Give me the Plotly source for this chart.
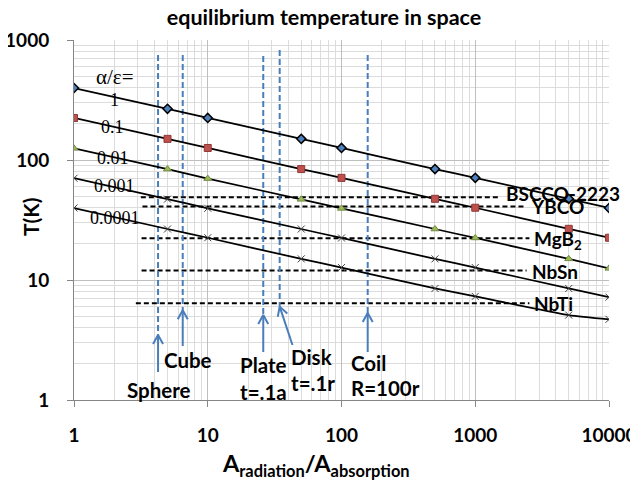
import numpy as np
import plotly.graph_objects as go

# ---------------- data ----------------
area_ratio = [1, 5, 10, 50, 100, 500, 1000, 5000, 10000]
ratio_labels = ["1", "0.1", "0.01", "0.001", "0.0001"]
T_1 = [398, 267, 224, 150, 126, 84, 71, 47.5, 39.8]
T_01 = [224, 150, 126, 84, 71, 47.5, 40, 26.7, 22.5]
T_001 = [125, 84, 70, 47, 39.5, 26.6, 22.4, 15, 12.5]
T_0001 = [70.5, 47.2, 39.6, 26.6, 22.4, 15, 12.7, 8.5, 7.2]
T_00001 = [39.8, 26.6, 22.5, 15, 12.7, 8.5, 7.3, 5.1, 4.7]

materials = ["BSCCO-2223", "YBCO", "MgB<sub>2</sub>", "NbSn", "NbTi"]
material_T = [49, 41, 22.3, 12, 6.4]
material_x_start = [3.16, 3.25, 3.2, 3.2, 2.9]
material_x_end = [1550, 2390, 2540, 2420, 2540]

geometries = ["Sphere", "Cube", "Plate", "Disk", "Coil"]
geometry_ratio = [4.25, 6.5, 26, 34.5, 157]
geometry_top = [750, 750, 736, 825, 750]
geometry_head = [3.48, 5.6, 5.1, 6.0, 5.3]
geometry_tail_x = [4.25, 6.5, 26, 43, 157]
geometry_tail_y = [1.71, 2.82, 2.51, 2.87, 2.51]

x_ticks = [1, 10, 100, 1000, 10000]
x_ticktext = ["1", "10", "100", "1000", "10000"]
y_ticks = [1, 10, 100, 1000]
y_ticktext = ["1", "10", "100", "1000"]

# ---------------- layout constants ----------------
OFF = 8                      # default page (body) margin of the html page
W, H = 638, 481              # window size
PL, PR, PT, PB = 74, 609, 40, 400   # plot area in window pixels
PW, PH = PR - PL, PB - PT
PX = PW / 4.0   # pixels per decade (x)
PY = PH / 3.0   # pixels per decade (y)
FONT = "Lato"
BLUE = "#4a7ebb"

def px(xp):
    return (xp - PL) / PW

def py(yp):
    return (PB - yp) / PH

fig = go.Figure()

# horizontal dashed material lines
for name, t, xs, xe in zip(materials, material_T, material_x_start, material_x_end):
    fig.add_trace(go.Scatter(x=[xs, xe], y=[t, t], mode="lines",
                             line=dict(color="black", width=2, dash="5px,3px"),
                             hoverinfo="skip", showlegend=False))

# vertical blue dashed lines + arrows
def arrow_pts(xt, yt, xh, yh, hl=9.0, hw=5.0):
    u0, v0 = np.log10(xt) * PX, np.log10(yt) * PY
    u1, v1 = np.log10(xh) * PX, np.log10(yh) * PY
    d = np.array([u1 - u0, v1 - v0])
    d = d / np.hypot(*d)
    p = np.array([-d[1], d[0]])
    lw = np.array([u1, v1]) - hl * d + hw * p
    rw = np.array([u1, v1]) - hl * d - hw * p
    conv = lambda a: (10 ** (a[0] / PX), 10 ** (a[1] / PY))
    l, r = conv(lw), conv(rw)
    xs = [xt, xh, None, l[0], xh, r[0]]
    ys = [yt, yh, None, l[1], yh, r[1]]
    return xs, ys

for g, xr, top, head, tx, ty in zip(geometries, geometry_ratio, geometry_top,
                                     geometry_head, geometry_tail_x, geometry_tail_y):
    fig.add_trace(go.Scatter(x=[xr, xr], y=[top, head], mode="lines",
                             line=dict(color=BLUE, width=2, dash="6px,3px"),
                             hoverinfo="skip", showlegend=False))
    ax_, ay_ = arrow_pts(tx, ty, xr, head)
    fig.add_trace(go.Scatter(x=ax_, y=ay_, mode="lines",
                             line=dict(color=BLUE, width=2),
                             hoverinfo="skip", showlegend=False))

# data series
series = [T_1, T_01, T_001, T_0001, T_00001]
markers = [
    dict(symbol="diamond", size=7, color="#4f81bd", line=dict(color="black", width=1.5)),
    dict(symbol="square", size=7, color="#c0504d", line=dict(color="#8c3836", width=1)),
    dict(symbol="triangle-up", size=7, color="#9bbb59", line=dict(color="#71893f", width=1)),
    dict(symbol="x-thin", size=7, color="#404040", line=dict(color="#404040", width=1)),
    dict(symbol="x-thin", size=7, color="#404040", line=dict(color="#404040", width=1)),
]
for ys, mk, lab in zip(series, markers, ratio_labels):
    fig.add_trace(go.Scatter(x=area_ratio, y=ys, mode="lines+markers", name=lab,
                             line=dict(color="black", width=1.75, shape="spline", smoothing=0.6),
                             marker=mk, showlegend=False))

ann = []
# material labels
mat_shift = [4, 0, -2, -1, 0]
for name, t, xe, sh in zip(materials, material_T, material_x_end, mat_shift):
    ann.append(dict(x=np.log10(xe), y=np.log10(t), xref="x", yref="y", text=name,
                    showarrow=False, xanchor="left", yanchor="middle", xshift=3, yshift=sh,
                    font=dict(family=FONT, size=19, color="black", weight="bold")))

# alpha/epsilon labels (serif)
alpha_pos = [(114, 100), (112, 127), (112.5, 158), (114, 186), (114.5, 218)]
ann.append(dict(x=px(115), y=py(77), xref="paper", yref="paper", text="α/ε=",
                showarrow=False, xanchor="center", yanchor="middle",
                font=dict(family="Liberation Serif", size=21, color="black")))
for lab, (xp, yp) in zip(ratio_labels, alpha_pos):
    ann.append(dict(x=px(xp), y=py(yp), xref="paper", yref="paper", text=lab,
                    showarrow=False, xanchor="center", yanchor="middle",
                    font=dict(family="Liberation Serif", size=18, color="black")))

# geometry labels
geo_labels = [("Sphere", 159, 390, "center"), ("Cube", 188, 360, "center"),
              ("Plate", 237.7, 365, "left"), ("t=.1a", 237.7, 391.5, "left"),
              ("Disk", 289, 357, "left"), ("t=.1r", 289, 383, "left"),
              ("Coil", 349, 363, "left"), ("R=100r", 349, 388, "left")]
for txt, xp, yp, anc in geo_labels:
    ann.append(dict(x=px(xp), y=py(yp), xref="paper", yref="paper", text=txt,
                    showarrow=False, xanchor=anc, yanchor="middle",
                    font=dict(family=FONT, size=20.5, color="black", weight="bold")))

# axis titles
ann.append(dict(x=px(316), y=py(465), xref="paper", yref="paper",
                text="A<sub>radiation</sub>/A<sub>absorption</sub>",
                showarrow=False, xanchor="center", yanchor="middle",
                font=dict(family=FONT, size=23.5, color="black", weight="bold")))
ann.append(dict(x=px(30), y=py(217), xref="paper", yref="paper", text="T(K)",
                showarrow=False, xanchor="center", yanchor="middle", textangle=-90,
                font=dict(family=FONT, size=21, color="black", weight="bold")))

axis_common = dict(
    type="log", showgrid=True, gridcolor="#bfbfbf", gridwidth=1,
    showline=True, linecolor="#868686", linewidth=1,
    ticks="outside", ticklen=6, tickcolor="#868686",
    tickfont=dict(family=FONT, size=19, color="black", weight="bold"),
    zeroline=False, automargin=False,
    minor=dict(dtick="D1", showgrid=True, gridcolor="#dcdcdc", gridwidth=1, ticks=""),
)

FW, FH = W - OFF, H - OFF
fig.update_layout(
    width=FW, height=FH,
    margin=dict(l=PL - OFF, r=W - PR, t=PT - OFF, b=H - PB, pad=0, autoexpand=False),
    paper_bgcolor="white", plot_bgcolor="white",
    showlegend=False,
    title=dict(text="equilibrium temperature in space", x=(324 - OFF) / FW, xref="container",
               y=1 - (17 - OFF) / FH, yref="container", xanchor="center", yanchor="middle",
               font=dict(family=FONT, size=21.5, color="black", weight="bold")),
    xaxis=dict(axis_common, range=[0, 4], tickvals=x_ticks, ticktext=x_ticktext,
               ticklabelstandoff=12),
    yaxis=dict(axis_common, range=[0, 3], tickvals=y_ticks, ticktext=y_ticktext,
               ticklabelstandoff=14),
    annotations=ann,
)

fig.write_html("out.html")
